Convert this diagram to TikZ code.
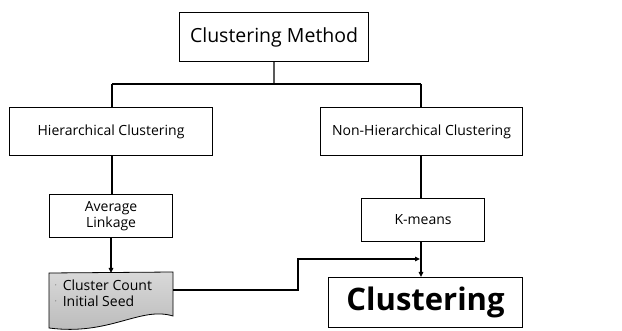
\documentclass[tikz,border=0pt]{standalone}
\usepackage{fontspec}
\setmainfont{Open Sans}
\usetikzlibrary{arrows.meta}
\begin{document}
\begin{tikzpicture}[x=1pt,y=-1pt,
  box/.style={draw=black,line width=1.1pt,fill=white,inner sep=0pt,anchor=north west},
  conn/.style={line width=1.3pt,draw=black},
  arr/.style={conn,-{Triangle[length=5pt,width=4.5pt]}}]
\useasboundingbox (0,0) rectangle (622,331);
\fill[white] (0,0) rectangle (622,331);
% boxes
\node[box,minimum width=189pt,minimum height=49pt,font=\fontsize{19.5}{22}\selectfont] (cm) at (179,12) {Clustering Method};
\node[box,minimum width=203pt,minimum height=48pt,font=\fontsize{14}{16}\selectfont] (hc) at (9,107) {Hierarchical Clustering};
\node[box,minimum width=202pt,minimum height=48pt,font=\fontsize{14}{16}\selectfont] (nhc) at (320,107) {Non-Hierarchical Clustering};
\node[box,minimum width=123pt,minimum height=43pt,align=center,font=\fontsize{14}{16}\selectfont] (al) at (49,194) {Average\\Linkage};
\node[box,minimum width=123pt,minimum height=43pt,font=\fontsize{14}{16}\selectfont] (km) at (361,198) {K-means};
\node[box,minimum width=194pt,minimum height=50pt,font=\fontsize{31}{33}\selectfont\bfseries] (cl) at (328,277) {Clustering};
% document shape
\path[draw=black,line width=0.8pt,top color=gray!30,bottom color=gray!55]
  (49,273) -- (173,272) -- (173,316) .. controls (140,306) and (110,336) .. (49,328) -- cycle;
\node[anchor=north west,align=left,inner sep=0pt,font=\fontsize{14}{16}\selectfont] (doc) at (55,280)
  {\raisebox{3pt}{\fontsize{6}{7}\selectfont·}\, Cluster Count\\\raisebox{3pt}{\fontsize{6}{7}\selectfont·}\, Initial Seed};
\coordinate (docr) at (173,290);
\coordinate (doct) at (111,273);
% connectors
\coordinate (j) at (274,84);
\coordinate (jl) at (112,84);
\coordinate (jr) at (421,84);
\draw[conn] (cm.south) -- (j);
\draw[conn] (jl) -- (jr);
\draw[conn] (jl) -- (jl |- hc.north);
\draw[conn] (jr) -- (jr |- nhc.north);
\draw[conn] (jl |- hc.south) -- (jl |- al.north);
\draw[conn] (jr |- nhc.south) -- (jr |- km.north);
\draw[arr] (doct |- al.south) -- (doct);
\draw[arr] (jr |- km.south) -- (jr |- cl.north);
\draw[arr] (docr) -- (298,290) -- (298,259) -- (420,259);
\end{tikzpicture}
\end{document}
